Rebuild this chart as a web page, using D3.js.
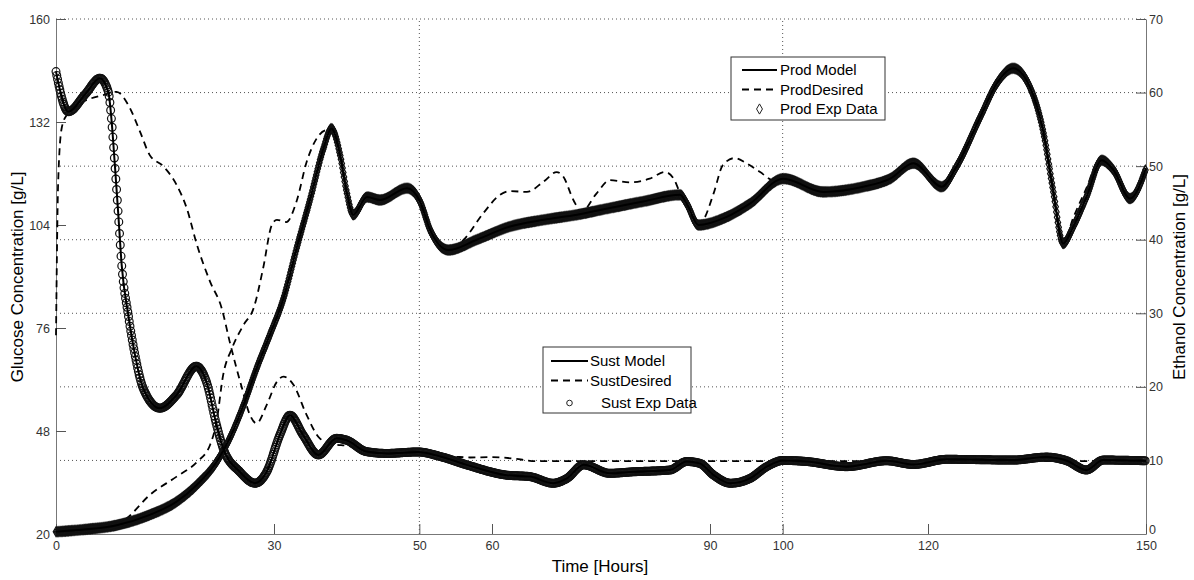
<!DOCTYPE html>
<html>
<head>
<script src="https://cdnjs.cloudflare.com/ajax/libs/d3/7.8.5/d3.min.js"></script>
<title>Glucose / Ethanol</title>
<style>
    html, body { margin: 0; background: #fff; }
    .svg_canvas { display: block; font-family: Arial, "Liberation Sans", sans-serif; }
</style>
</head>
<body>
<svg width="1194" height="580" class="svg_canvas"></svg>
<script>

// substrate (glucose, left axis)
var sustTime  = [0, 1.7, 4, 6.05, 7.2, 7.66, 8.1, 8.58, 9.04, 9.95, 10.87, 12.0, 14.3, 16.6, 19.3, 20.7, 22.1, 23.0, 25.3, 27.4, 29.0, 30.8, 32.2, 34.0, 36.1, 38.6, 40.0, 42.7, 45.5, 49.8, 53, 56.5, 62.0, 65.2, 68.4, 70.3, 72.6, 76.2, 79.4, 84.5, 86.8, 88.6, 90.5, 92.8, 95.5, 97.8, 100.1, 103.3, 108.8, 114.3, 118.0, 122.6, 131.7, 136.3, 139.1, 141.8, 144.1, 150];
var sustModel = [145.7, 134.8, 139.5, 143.9, 140.2, 132.1, 120.3, 106.7, 93.1, 79.5, 68.7, 59.6, 54.2, 57.8, 65.6, 61.4, 49.6, 43.3, 36.9, 33.8, 36.9, 46.9, 52.3, 46.9, 41.5, 46.0, 45.5, 42.4, 41.9, 42.3, 41.0, 38.8, 36.0, 35.6, 33.8, 35.1, 38.8, 36.5, 36.9, 37.4, 39.7, 39.2, 36.0, 33.8, 35.1, 38.3, 40.0, 39.7, 38.3, 39.9, 38.9, 40.3, 40.1, 40.9, 39.9, 37.4, 40.1, 39.9];

var sustDesiredTime = [0, 0.3, 0.78, 1.47, 3.76, 6.5, 8.35, 9.95, 11.56, 12.9, 14.8, 16.6, 18.0, 19.4, 21.2, 22.8, 23.9, 25.6, 26.7, 27.6, 29.0, 30.4, 31.3, 32.7, 34.5, 36.3, 38.0, 40, 45, 50, 55, 57, 60, 63, 66, 150];
var sustDesired     = [74, 115.8, 130.3, 133.9, 137.5, 139.3, 140.2, 136.6, 129.4, 123.0, 119.9, 114.9, 108.5, 98.6, 88.6, 81.4, 72.3, 59.6, 52.3, 50.1, 55.1, 61.4, 62.8, 60.5, 52.3, 46.0, 44.5, 44, 42, 41.8, 41.0, 40.8, 40.9, 40.5, 39.8, 39.8];

// product (ethanol, right axis)
var prodTime  = [0, 3.76, 8.35, 12.9, 16.6, 19.4, 22.1, 23.9, 25.8, 27.6, 29.4, 31.3, 33.1, 35.0, 36.8, 37.9, 39.1, 40.0, 40.9, 42.8, 44.6, 48.3, 50.1, 51.5, 54.0, 57.9, 62.5, 67.1, 71.7, 76.2, 80.8, 85.9, 86.8, 88.4, 92.3, 95.5, 100.1, 105.6, 111.1, 114.8, 118.0, 121.9, 123.9, 127.2, 129.5, 131.7, 134.0, 135.9, 137.2, 138.6, 140.0, 141.8, 143.9, 145.5, 147.8, 150];
var prodModel = [0.3, 0.6, 1.2, 2.6, 4.4, 6.7, 9.8, 13.0, 17.5, 22.5, 27.0, 32.0, 38.8, 45.6, 52.4, 55.1, 51.5, 46.5, 43.4, 45.8, 45.4, 47.0, 45.2, 41.3, 38.6, 40.0, 41.8, 42.7, 43.4, 44.3, 45.2, 46.1, 44.9, 42.0, 43.1, 44.9, 48.3, 46.5, 47.2, 48.3, 50.4, 47.2, 49.9, 56.7, 61.3, 63.3, 60.8, 54.5, 46.8, 39.5, 41.8, 45.8, 50.8, 49.5, 45.6, 49.7];

var prodDesiredTime = [0, 3.76, 8.35, 9.7, 12.9, 16.6, 19.4, 21.2, 22.1, 23.0, 24.2, 25.8, 27.2, 28.5, 29.7, 30.4, 31.7, 33.1, 34.5, 35.9, 37.3, 38.2, 39.1, 40.0, 40.9, 42.8, 44.6, 48.3, 50.1, 51.5, 54.0, 56.1, 58.8, 61.1, 62.5, 64.8, 67.1, 68.9, 69.8, 71.2, 72.3, 74.4, 76.2, 79.0, 81.7, 83.8, 85.0, 85.9, 86.8, 88.4, 89.1, 90.5, 91.8, 93.4, 95.0, 96.9, 98.7, 100.1, 105.6, 111.1, 114.8, 118.0, 121.9, 123.9, 127.2, 129.5, 131.7, 134.0, 135.9, 137.2, 138.6, 140.0, 141.8, 143.6, 145.5, 147.8, 150];
var prodDesired     = [0.3, 0.6, 1.2, 2.1, 5.3, 7.8, 9.8, 12.1, 15.3, 21.6, 25.2, 28.4, 30.7, 36.1, 42.0, 42.7, 42.4, 45.2, 50.6, 53.8, 54.9, 54.9, 51.5, 46.5, 43.4, 45.8, 45.4, 47.0, 45.2, 41.3, 38.6, 40.0, 43.6, 46.1, 46.6, 46.5, 47.9, 49.2, 48.6, 45.4, 43.8, 46.3, 48.1, 47.8, 48.3, 49.2, 48.3, 46.3, 44.9, 42.0, 42.7, 46.3, 50.2, 51.1, 50.4, 49.2, 48.1, 48.3, 46.5, 47.2, 48.3, 50.4, 47.2, 49.9, 56.7, 61.3, 63.3, 60.8, 54.5, 46.8, 39.5, 43.0, 47.0, 50.8, 49.5, 45.6, 49.7];

var glucoseTicks = [20, 48, 76, 104, 132, 160];
var ethanolTicks = [0, 10, 20, 30, 40, 50, 60, 70];
var timeTicks    = [0, 30, 50, 60, 90, 100, 120, 150];
var timeGrid     = [50, 100];
var prodLabels   = ["Prod Model", "ProdDesired", "Prod Exp Data"];
var sustLabels   = ["Sust Model", "SustDesired", "Sust Exp Data"];

var x = d3.scaleLinear().domain([0, 150]).range([56, 1146]);
var yGlu = d3.scaleLinear().domain([20, 160]).range([534, 19]);
var yEth = d3.scaleLinear().domain([0, 70]).range([534, 19]);

var svg = d3.select(".svg_canvas");

// dotted grid
var grid = svg.append("g").attr("stroke", "#555").attr("stroke-dasharray", "1,3");
grid.selectAll(".h").data(ethanolTicks.slice(1)).enter().append("line")
    .attr("x1", x(0)).attr("x2", x(150))
    .attr("y1", function(d){ return yEth(d); })
    .attr("y2", function(d){ return yEth(d); });
grid.selectAll(".v").data(timeGrid).enter().append("line")
    .attr("x1", function(d){ return x(d); })
    .attr("x2", function(d){ return x(d); })
    .attr("y1", yEth(0)).attr("y2", yEth(70));

function styleAxis(g) {
    g.select(".domain").attr("stroke", "#777");
    g.selectAll(".tick line").attr("stroke", "#555");
    g.selectAll(".tick text").attr("fill", "#333").style("font-size", "12.5px")
        .style("font-family", "Arial, 'Liberation Sans', sans-serif");
}

svg.append("g").attr("transform", "translate(" + x(0) + ",0)")
    .call(d3.axisLeft(yGlu).tickValues(glucoseTicks).tickSizeInner(-10).tickSizeOuter(0).tickPadding(6))
    .call(styleAxis);
var rightAxis = svg.append("g").attr("transform", "translate(" + x(150) + ",0)")
    .call(d3.axisRight(yEth).tickValues(ethanolTicks).tickSizeInner(-10).tickSizeOuter(0).tickPadding(3))
    .call(styleAxis);
// the 0 label sits just above the 150 time label, as in the original
rightAxis.selectAll(".tick text").filter(function(d){ return d === 0; }).attr("dy", "-0.05em");
svg.append("g").attr("transform", "translate(0," + yGlu(20) + ")")
    .call(d3.axisBottom(x).tickValues(timeTicks).tickSizeInner(-10).tickSizeOuter(0).tickPadding(7))
    .call(styleAxis);

// axis titles
svg.append("text").attr("x", 600).attr("y", 572).attr("text-anchor", "middle")
    .style("font-size", "17px").text("Time [Hours]");
svg.append("text").attr("transform", "translate(23,277) rotate(-90)").attr("text-anchor", "middle")
    .style("font-size", "17px").text("Glucose Concentration [g/L]");
svg.append("text").attr("transform", "translate(1185,277) rotate(-90)").attr("text-anchor", "middle")
    .style("font-size", "17px").text("Ethanol Concentration [g/L]");

function makeLine(times, yScale) {
    return d3.line()
        .x(function(d, i){ return x(times[i]); })
        .y(function(d){ return yScale(d); })
        .curve(d3.curveMonotoneX);
}

var dashLayer = svg.append("g");
var markLayer = svg.append("g");
var lineLayer = svg.append("g");

dashLayer.append("path").attr("d", makeLine(sustDesiredTime, yGlu)(sustDesired))
    .attr("fill", "none").attr("stroke", "#000").attr("stroke-width", 1.8).attr("stroke-dasharray", "7,5");
dashLayer.append("path").attr("d", makeLine(prodDesiredTime, yEth)(prodDesired))
    .attr("fill", "none").attr("stroke", "#000").attr("stroke-width", 1.8).attr("stroke-dasharray", "7,5");

var sustPath = lineLayer.append("path").attr("d", makeLine(sustTime, yGlu)(sustModel))
    .attr("fill", "none").attr("stroke", "#000").attr("stroke-width", 2);
var prodPath = lineLayer.append("path").attr("d", makeLine(prodTime, yEth)(prodModel))
    .attr("fill", "none").attr("stroke", "#000").attr("stroke-width", 2);

// experimental samples taken along the model curve, one every 0.1 h
function sampleAlong(node, dx) {
    var L = node.getTotalLength(), pts = [], lastX = -Infinity;
    for (var s = 0; s <= L; s += 0.35) {
        var p = node.getPointAtLength(s);
        if (p.x - lastX >= dx) { pts.push([p.x, p.y]); lastX = p.x; }
    }
    return pts;
}
var step = x(0.1) - x(0);

markLayer.append("g").selectAll("circle")
    .data(sampleAlong(sustPath.node(), step)).enter().append("circle")
    .attr("cx", function(d){ return d[0]; })
    .attr("cy", function(d){ return d[1]; })
    .attr("r", 3.9).attr("fill", "none").attr("stroke", "#111").attr("stroke-width", 1.2);

var diamond = d3.symbol().type(d3.symbolDiamond).size(27);
markLayer.append("g").selectAll("path")
    .data(sampleAlong(prodPath.node(), step)).enter().append("path")
    .attr("d", diamond)
    .attr("transform", function(d){ return "translate(" + d[0] + "," + d[1] + ")"; })
    .attr("fill", "none").attr("stroke", "#111").attr("stroke-width", 1.2);

// legends
function legend(box, rows, labels, marker) {
    var g = svg.append("g");
    g.append("rect").attr("x", box.x).attr("y", box.y).attr("width", box.w).attr("height", box.h)
        .attr("fill", "#fff").attr("stroke", "#333");
    labels.forEach(function(lab, i) {
        var y = rows[i];
        if (i < 2) {
            g.append("line").attr("x1", box.lx1).attr("x2", box.lx2).attr("y1", y).attr("y2", y)
                .attr("stroke", "#000").attr("stroke-width", 2)
                .attr("stroke-dasharray", i === 1 ? "7,5" : null);
        } else {
            marker(g, (box.lx1 + box.lx2) / 2, y);
        }
        g.append("text").attr("x", i === 2 ? box.tx3 : box.tx).attr("y", y).attr("dy", "0.35em")
            .style("font-size", "15px").text(lab);
    });
}

legend({x: 731, y: 57, w: 154, h: 63, lx1: 742, lx2: 777, tx: 780, tx3: 780}, [70, 89.5, 109], prodLabels,
    function(g, cx, cy) {
        g.append("path").attr("d", d3.symbol().type(d3.symbolDiamond).size(30))
            .attr("transform", "translate(" + cx + "," + cy + ")")
            .attr("fill", "none").attr("stroke", "#222");
    });
legend({x: 543, y: 347, w: 148, h: 66, lx1: 551, lx2: 588, tx: 590, tx3: 601}, [361, 380.5, 403], sustLabels,
    function(g, cx, cy) {
        g.append("circle").attr("cx", cx).attr("cy", cy).attr("r", 2.8)
            .attr("fill", "none").attr("stroke", "#222");
    });

</script>
</body>
</html>
